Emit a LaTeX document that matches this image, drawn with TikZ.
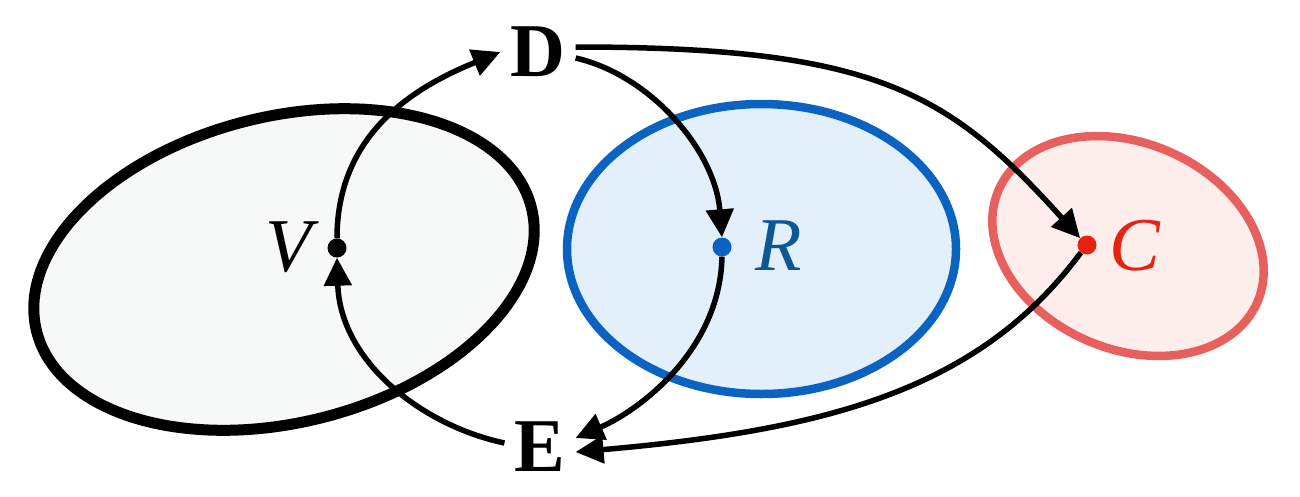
\documentclass[tikz,border=0pt]{standalone}
\usepackage{fontspec}
\setmainfont{Liberation Serif}
\usetikzlibrary{arrows.meta}
\definecolor{vfill}{HTML}{F7F8F8}
\definecolor{rline}{HTML}{0A63C1}
\definecolor{rfill}{HTML}{E3F0FB}
\definecolor{rtext}{HTML}{0D5796}
\definecolor{cline}{HTML}{E8605E}
\definecolor{cfill}{HTML}{FDEDEB}
\definecolor{ctext}{HTML}{E62310}
\begin{document}
\begin{tikzpicture}[x=1pt,y=-1pt,
  conn/.style={line width=5.5pt, -{Triangle[length=28pt,width=27pt]}},
  dotnode/.style={circle, inner sep=0pt, minimum size=19pt},
  big/.style={font=\fontsize{76}{80}\selectfont\bfseries, inner xsep=10pt, inner ysep=0pt},
  lab/.style={font=\fontsize{76}{80}\selectfont\itshape, inner sep=0pt},
]
\useasboundingbox (0,0) rectangle (1300,496);
% regions
\draw[line width=11pt, fill=vfill, rotate around={14:(284,269.5)}]
  (284,269.5) ellipse [x radius=255, y radius=153];
\draw[line width=8.5pt, draw=rline, fill=rfill]
  (761.5,249) ellipse [x radius=194.5, y radius=145];
\draw[line width=8.5pt, draw=cline, fill=cfill, rotate around={-23.5:(1128,246)}]
  (1128,246) ellipse [x radius=141, y radius=103];
% nodes
\node[big] (D) at (538,52) {D};
\node[big] (E) at (540,447) {E};
\node[dotnode, fill=black] (Vd) at (337,248) {};
\node[dotnode, fill=rline] (Rd) at (722,247) {};
\node[dotnode, fill=ctext] (Cd) at (1087,245) {};
\node[lab] (V) at (289,247) {V};
\node[lab, text=rtext] (R) at (779,246) {R};
\node[lab, text=ctext] (C) at (1135,246) {C};
% connectors
\draw[conn] ([yshift=4pt]E.west) .. controls (420,425) and (340,360) .. (Vd.south);
\draw[conn] (Vd.north) .. controls (337,130) and (420,85) .. (D.west);
\draw[conn] ([yshift=-6pt]D.east) .. controls (650,75) and (715,150) .. (Rd.north);
\draw[conn] ([yshift=5pt]D.east) .. controls (877,47) and (949,93) .. (Cd.135);
\draw[conn] (Rd.south) .. controls (720,350) and (640,410) .. ([yshift=9pt]E.east);
\draw[conn] (Cd.231) .. controls (979,390) and (827,430) .. ([yshift=-5pt]E.east);
\end{tikzpicture}
\end{document}
